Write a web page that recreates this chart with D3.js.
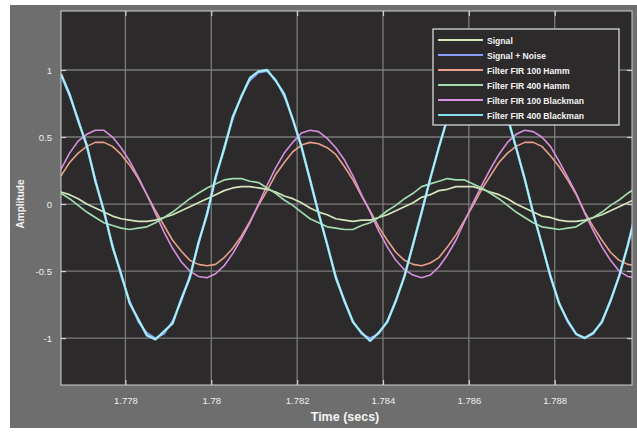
<!DOCTYPE html>
<html lang="en">
<head>
<meta charset="UTF-8">
<title>FIR filter comparison</title>
<script src="https://d3js.org/d3.v7.min.js"></script>
<style>
  body { margin: 0; background: #fff; }
  svg { display: block; font-family: Arial, "Liberation Sans", sans-serif; }
</style>
</head>
<body>
<svg id="viz" width="637" height="434"></svg>
<script>
    // sample grid (secs)
    var tStart = 1.7765, tStep = 0.0002, nPts = 68;
    var time = d3.range(nPts).map(function (i) { return +(tStart + i * tStep).toFixed(4); });

    var xTicks = [1.778, 1.78, 1.782, 1.784, 1.786, 1.788];
    var yTicks = [-1, -0.5, 0, 0.5, 1];

    var signal = [0.09,0.07,0.04,0.00,-0.03,-0.06,-0.09,-0.11,-0.12,-0.13,-0.13,-0.12,-0.10,-0.08,-0.05,-0.02,0.01,0.04,0.07,0.10,0.12,0.13,0.13,0.12,0.11,
        0.09,0.06,0.04,0.01,-0.03,-0.06,-0.08,-0.11,-0.12,-0.13,-0.12,-0.12,-0.10,-0.08,-0.05,-0.02,0.01,0.05,0.07,0.10,0.11,0.13,0.13,0.13,0.11,
        0.09,0.07,0.04,0.00,-0.03,-0.06,-0.09,-0.10,-0.12,-0.13,-0.13,-0.12,-0.10,-0.08,-0.05,-0.02,0.01,0.04];

    var signalNoise = [0.96,0.80,0.64,0.42,0.19,-0.07,-0.30,-0.54,-0.72,-0.88,-0.96,-1.00,-0.97,-0.87,-0.73,-0.53,-0.31,-0.06,0.18,0.43,0.63,0.81,0.92,0.98,0.99,
        0.93,0.80,0.64,0.42,0.19,-0.06,-0.31,-0.53,-0.73,-0.87,-0.97,-1.00,-0.97,-0.87,-0.73,-0.53,-0.31,-0.07,0.18,0.43,0.63,0.81,0.93,0.99,0.99,
        0.93,0.81,0.63,0.43,0.18,-0.06,-0.31,-0.53,-0.73,-0.88,-0.97,-1.00,-0.97,-0.87,-0.73,-0.53,-0.31,-0.06];

    var fir100Hamm = [0.21,0.31,0.38,0.43,0.46,0.46,0.43,0.37,0.29,0.19,0.07,-0.05,-0.16,-0.27,-0.35,-0.42,-0.45,-0.46,-0.45,-0.40,-0.33,-0.24,-0.13,-0.01,0.10,
        0.22,0.31,0.39,0.44,0.46,0.45,0.42,0.37,0.28,0.18,0.06,-0.05,-0.17,-0.27,-0.36,-0.42,-0.45,-0.46,-0.44,-0.40,-0.32,-0.23,-0.12,-0.01,0.11,
        0.21,0.31,0.38,0.43,0.46,0.46,0.43,0.36,0.28,0.18,0.07,-0.06,-0.17,-0.27,-0.36,-0.42,-0.45,-0.46];

    var fir400Hamm = [0.08,0.04,-0.01,-0.06,-0.10,-0.14,-0.16,-0.18,-0.19,-0.18,-0.17,-0.14,-0.10,-0.06,-0.01,0.04,0.08,0.12,0.15,0.18,0.19,0.19,0.17,0.16,0.12,
        0.08,0.03,-0.01,-0.06,-0.11,-0.14,-0.17,-0.18,-0.19,-0.19,-0.16,-0.14,-0.10,-0.05,-0.01,0.04,0.08,0.13,0.15,0.17,0.19,0.18,0.18,0.15,0.12,
        0.08,0.04,-0.01,-0.06,-0.10,-0.14,-0.17,-0.18,-0.19,-0.18,-0.17,-0.13,-0.10,-0.06,-0.01,0.03,0.08,0.12];

    var fir100Black = [0.26,0.38,0.47,0.52,0.55,0.55,0.50,0.42,0.32,0.20,0.07,-0.07,-0.21,-0.33,-0.43,-0.50,-0.54,-0.55,-0.52,-0.46,-0.37,-0.26,-0.14,0.00,0.14,
        0.27,0.38,0.46,0.53,0.55,0.54,0.49,0.42,0.33,0.21,0.07,-0.06,-0.20,-0.32,-0.42,-0.49,-0.53,-0.55,-0.53,-0.47,-0.38,-0.27,-0.13,0.01,0.14,
        0.26,0.37,0.46,0.52,0.55,0.54,0.50,0.43,0.32,0.20,0.08,-0.07,-0.20,-0.32,-0.42,-0.50,-0.54,-0.55];

    var fir400Black = [0.97,0.82,0.62,0.44,0.17,-0.05,-0.32,-0.52,-0.74,-0.86,-0.98,-1.01,-0.95,-0.89,-0.71,-0.55,-0.29,-0.08,0.20,0.41,0.65,0.80,0.94,0.99,1.00,
        0.92,0.82,0.63,0.43,0.18,-0.07,-0.30,-0.55,-0.72,-0.88,-0.96,-1.02,-0.96,-0.88,-0.72,-0.54,-0.30,-0.06,0.19,0.42,0.64,0.80,0.94,0.99,0.98,
        0.94,0.80,0.65,0.42,0.19,-0.07,-0.30,-0.54,-0.74,-0.87,-0.97,-1.00,-0.96,-0.88,-0.72,-0.54,-0.31,-0.05];

    var seriesNames = ['Signal', 'Signal + Noise', 'Filter FIR 100 Hamm', 'Filter FIR 400 Hamm',
        'Filter FIR 100 Blackman', 'Filter FIR 400 Blackman'];
    var seriesValues = [signal, signalNoise, fir100Hamm, fir400Hamm, fir100Black, fir400Black];
    var seriesColors = ['#d4e6bc', '#8c9cff', '#e8a08a', '#a2dcb0', '#d890e0', '#86dff0'];
    var seriesWidths = [1.7, 1.6, 1.6, 1.7, 1.6, 2.4];
    var drawOrder = [1, 2, 4, 0, 3, 5];

    var svg = d3.select('#viz');

    // figure background
    svg.append('rect').attr('x', 10).attr('y', 5).attr('width', 627).attr('height', 423)
        .attr('fill', '#6e6e6e');

    var pLeft = 61, pRight = 632, pTop = 11, pBottom = 385;

    var x = d3.scaleLinear().domain([1.7765, 1.7898]).range([pLeft, pRight]);
    var y = d3.scaleLinear().domain([-1.35, 1.44]).range([pBottom, pTop]);

    svg.append('rect').attr('x', pLeft).attr('y', pTop)
        .attr('width', pRight - pLeft).attr('height', pBottom - pTop)
        .attr('fill', '#2c2a2a');

    svg.append('clipPath').attr('id', 'clip').append('rect')
        .attr('x', pLeft).attr('y', pTop).attr('width', pRight - pLeft).attr('height', pBottom - pTop);

    // grid
    var grid = svg.append('g').attr('stroke', '#8a8a8a').attr('stroke-width', 1.3).attr('opacity', 0.85);
    grid.selectAll('.gx').data(xTicks).enter().append('line')
        .attr('x1', function (d) { return x(d); }).attr('x2', function (d) { return x(d); })
        .attr('y1', pTop).attr('y2', pBottom);
    grid.selectAll('.gy').data(yTicks).enter().append('line')
        .attr('y1', function (d) { return y(d); }).attr('y2', function (d) { return y(d); })
        .attr('x1', pLeft).attr('x2', pRight);

    // lines
    var line = d3.line()
        .x(function (d, i) { return x(time[i]); })
        .y(function (d) { return y(d); });

    var plot = svg.append('g').attr('clip-path', 'url(#clip)');
    drawOrder.forEach(function (k) {
        plot.append('path')
            .datum(seriesValues[k])
            .attr('d', line)
            .attr('fill', 'none')
            .attr('stroke', seriesColors[k])
            .attr('stroke-width', seriesWidths[k])
            .attr('stroke-linejoin', 'round');
    });
    // light core on the noisy trace
    plot.append('path')
        .datum(fir400Black)
        .attr('d', line)
        .attr('fill', 'none')
        .attr('stroke', '#e6fbff')
        .attr('stroke-width', 0.8)
        .attr('opacity', 0.8);

    // axes (ticks inward, mirrored)
    function styleAxis(g) {
        g.select('.domain').remove();
        g.selectAll('line').attr('stroke', '#d0d0d0').attr('stroke-width', 1.2);
        g.selectAll('text').attr('fill', '#eeeeee').attr('font-size', 9.5);
    }
    var fmt = function (d) { return String(d); };
    svg.append('g').attr('transform', 'translate(0,' + pBottom + ')')
        .call(d3.axisBottom(x).tickValues(xTicks).tickSize(-5).tickPadding(12).tickFormat(fmt))
        .call(styleAxis);
    svg.append('g').attr('transform', 'translate(0,' + pTop + ')')
        .call(d3.axisTop(x).tickValues(xTicks).tickSize(-5).tickFormat(''))
        .call(styleAxis);
    svg.append('g').attr('transform', 'translate(' + pLeft + ',0)')
        .call(d3.axisLeft(y).tickValues(yTicks).tickSize(-5).tickPadding(9).tickFormat(fmt))
        .call(styleAxis);
    svg.append('g').attr('transform', 'translate(' + pRight + ',0)')
        .call(d3.axisRight(y).tickValues(yTicks).tickSize(-5).tickFormat(''))
        .call(styleAxis);

    svg.append('rect').attr('x', pLeft).attr('y', pTop)
        .attr('width', pRight - pLeft).attr('height', pBottom - pTop)
        .attr('fill', 'none').attr('stroke', '#cfcfcf').attr('stroke-width', 1);

    // axis titles
    svg.append('text').attr('x', 345).attr('y', 421)
        .attr('text-anchor', 'middle').attr('fill', '#f4f4f4')
        .attr('font-size', 12.5).attr('font-weight', 'bold').text('Time (secs)');
    svg.append('text').attr('transform', 'translate(24,' + ((pTop + pBottom) / 2 + 6) + ') rotate(-90)')
        .attr('text-anchor', 'middle').attr('fill', '#f4f4f4')
        .attr('font-size', 10).attr('font-weight', 'bold').text('Amplitude');

    // legend
    var lg = svg.append('g');
    lg.append('rect').attr('x', 433).attr('y', 29).attr('width', 186).attr('height', 96)
        .attr('fill', '#2c2a2a').attr('stroke', '#d8d8d8').attr('stroke-width', 1.3);
    var items = lg.selectAll('.item').data(seriesNames).enter().append('g')
        .attr('transform', function (d, i) { return 'translate(0,' + (40 + i * 15) + ')'; });
    items.append('line').attr('x1', 438).attr('x2', 483)
        .attr('stroke', function (d, i) { return seriesColors[i]; }).attr('stroke-width', 1.8);
    items.append('text').attr('x', 487).attr('y', 3.5)
        .attr('fill', '#f4f4f4').attr('font-size', 8.6).attr('font-weight', 'bold')
        .text(function (d) { return d; });
</script>
</body>
</html>
